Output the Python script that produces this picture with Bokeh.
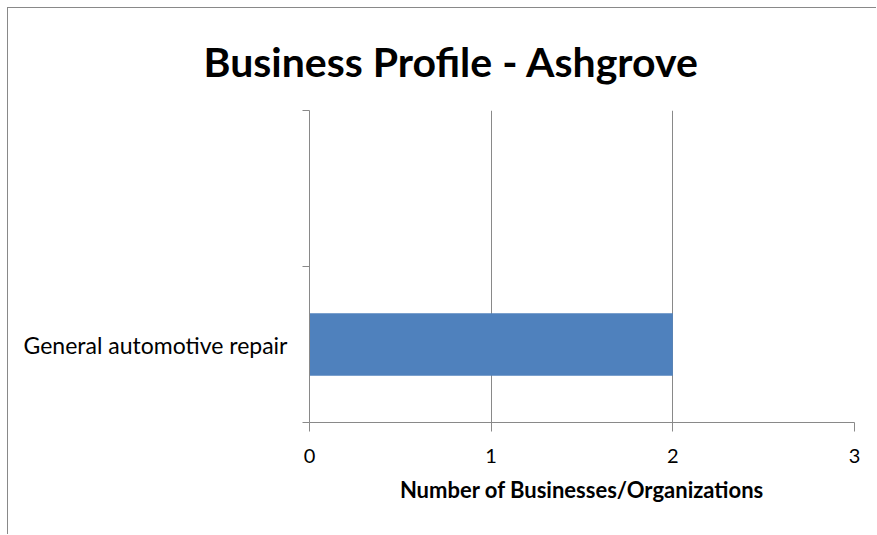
from bokeh.plotting import figure
from bokeh.models import Range1d, FixedTicker
from bokeh.embed import file_html
from bokeh.resources import INLINE

title_text = "Business Profile - Ashgrove"
categories = ["General automotive repair"]
counts = [2]
cat_pos = [0.5]
x_ticks = [0, 1, 2, 3]

GRAY = "#898989"
FONT = "Lato"

p = figure(width=869, height=527, output_backend="svg", toolbar_location=None,
           x_range=Range1d(0, 3), y_range=Range1d(0, 2),
           min_border_left=301, min_border_right=23, min_border_top=102, min_border_bottom=113,
           title=title_text)
p.styles = {"border-left": f"1px solid {GRAY}", "border-top": f"1px solid {GRAY}",
            "margin-left": "7px", "margin-top": "7px"}
p.outline_line_color = None

p.title.align = "left"
p.title.offset = -106
p.title.vertical_align = "middle"
p.title.text_font = FONT
p.title.text_font_size = "41px"
p.title.text_font_style = "bold"
p.title.text_color = "black"
p.title.standoff = 47

p.hbar(y=cat_pos, right=counts, left=0, height=0.4, color="#4F81BD", line_color=None)

# x axis
xa = p.xaxis[0]
xa.ticker = FixedTicker(ticks=x_ticks)
xa.axis_line_color = GRAY
xa.major_tick_line_color = GRAY
xa.major_tick_out = 9
xa.major_tick_in = 0
xa.minor_tick_line_color = None
xa.major_label_text_font = FONT
xa.major_label_text_font_size = "20px"
xa.major_label_text_color = "black"
xa.major_label_standoff = 17
xa.axis_label = "Number of Businesses/Organizations"
xa.axis_label_text_font = FONT
xa.axis_label_text_font_size = "22px"
xa.axis_label_text_font_style = "bold"
xa.axis_label_text_color = "black"
xa.axis_label_standoff = 10

# y axis
ya = p.yaxis[0]
ya.ticker = FixedTicker(ticks=cat_pos, minor_ticks=[0, 1, 2])
ya.major_label_overrides = {v: c for v, c in zip(cat_pos, categories)}
ya.axis_line_color = GRAY
ya.major_tick_line_color = None
ya.major_tick_out = 0
ya.minor_tick_line_color = GRAY
ya.minor_tick_out = 7
ya.minor_tick_in = 0
ya.major_label_text_font = FONT
ya.major_label_text_font_size = "23px"
ya.major_label_text_color = "black"
ya.major_label_standoff = 15

p.xgrid.ticker = FixedTicker(ticks=x_ticks)
p.xgrid.grid_line_color = GRAY
p.ygrid.grid_line_color = None

open("out.html", "w").write(file_html(p, INLINE))
